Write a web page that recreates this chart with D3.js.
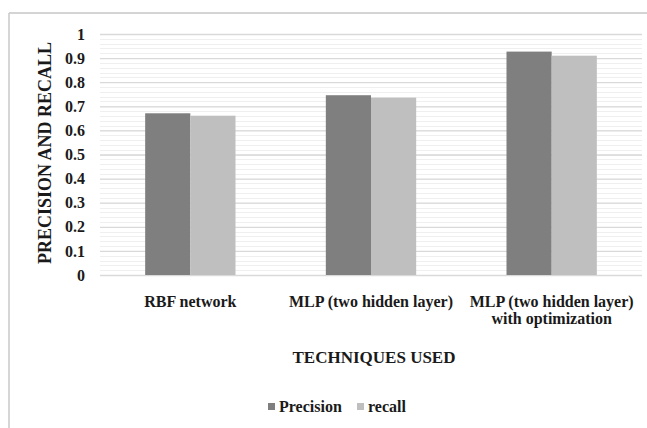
<!DOCTYPE html>
<html>
<head>
<meta charset="utf-8">
<script src="https://cdn.jsdelivr.net/npm/d3@7"></script>
<style>
body { margin: 0; background: #fff; }
</style>
</head>
<body>
<div class="container"></div>
<script>
// values
var techniques = ["RBF network", "MLP (two hidden layer)", "MLP (two hidden layer) with optimization"];
var precision = [0.671, 0.746, 0.927];
var recall = [0.661, 0.736, 0.910];
var seriesNames = ["Precision", "recall"];
var seriesColors = ["#7f7f7f", "#bfbfbf"];
var yTicks = [0, 0.1, 0.2, 0.3, 0.4, 0.5, 0.6, 0.7, 0.8, 0.9, 1];

var FONT = "'Liberation Serif'";
var W = 647, H = 428;
var plotL = 100, plotR = 642, plotT = 34, plotB = 275;

var svg = d3.select(".container")
	.append("svg")
	.attr("width", W)
	.attr("height", H);

function label(sel, size) {
	return sel.style("font-family", FONT).style("font-weight", "bold")
		.style("font-size", size + "px").attr("fill", "#1a1a1a");
}

// outer frame (only top + left edges show)
svg.append("line").attr("x1", 9).attr("x2", W).attr("y1", 13).attr("y2", 13)
	.style("stroke", "#d4d4d4").style("stroke-width", 2);
svg.append("line").attr("x1", 9).attr("x2", 9).attr("y1", 13).attr("y2", H)
	.style("stroke", "#c8c8c8").style("stroke-width", 1.5);

var x = d3.scaleBand().domain(techniques).range([plotL, plotR]).paddingInner(0.5).paddingOuter(0.25);
var xs = d3.scaleBand().domain(seriesNames).range([0, x.bandwidth()]);
var y = d3.scaleLinear().domain([0, 1]).range([plotB, plotT]);

// minor gridlines
var minor = d3.range(0, 1.0001, 0.02);
svg.append("g").selectAll("line").data(minor).enter().append("line")
	.attr("x1", plotL).attr("x2", plotR)
	.attr("y1", function(d) { return Math.round(y(d)) + 0.5; })
	.attr("y2", function(d) { return Math.round(y(d)) + 0.5; })
	.style("stroke", "#efefef");

// major gridlines + tick labels
var yAxis = svg.append("g")
	.attr("transform", "translate(" + plotL + ",0)")
	.call(d3.axisLeft(y).tickValues(yTicks).tickSize(-(plotR - plotL)).tickPadding(15)
		.tickFormat(function(d) { return d === 0 || d === 1 ? d3.format("d")(d) : d3.format(".1f")(d); }));
yAxis.select(".domain").remove();
yAxis.selectAll(".tick line").style("stroke", "#d9d9d9").style("stroke-width", 1.3);
label(yAxis.selectAll(".tick text"), 16);

// bars
var rows = techniques.map(function(t, i) { return { cat: t, vals: [precision[i], recall[i]] }; });
var groups = svg.append("g").selectAll("g").data(rows).enter().append("g")
	.attr("transform", function(d) { return "translate(" + x(d.cat) + ",0)"; });
groups.selectAll("rect").data(function(d) {
		return d.vals.map(function(v, j) { return { name: seriesNames[j], v: v, c: seriesColors[j] }; });
	}).enter().append("rect")
	.attr("x", function(d) { return xs(d.name); })
	.attr("width", xs.bandwidth())
	.attr("y", function(d) { return y(d.v); })
	.attr("height", function(d) { return y(0) - y(d.v); })
	.style("fill", function(d) { return d.c; });

// category labels
var catLines = [["RBF network"], ["MLP (two hidden layer)"], ["MLP (two hidden layer)", "with optimization"]];
techniques.forEach(function(t, i) {
	var cx = x(t) + x.bandwidth() / 2;
	var tx = label(svg.append("text"), 16)
		.attr("x", cx)
		.attr("y", 307)
		.attr("text-anchor", "middle");
	catLines[i].forEach(function(s, k) {
		tx.append("tspan").attr("x", cx).attr("dy", k === 0 ? 0 : 17).text(s);
	});
});

// axis titles
label(svg.append("text"), 17)
	.attr("x", 374)
	.attr("y", 363)
	.attr("text-anchor", "middle")
	.text("TECHNIQUES USED");

label(svg.append("text"), 18)
	.attr("transform", "translate(51,153) rotate(-90)")
	.attr("text-anchor", "middle")
	.text("PRECISION AND RECALL");

// legend
var legX = [268, 357];
seriesNames.forEach(function(n, i) {
	svg.append("rect").attr("x", legX[i]).attr("y", 403).attr("width", 7).attr("height", 7)
		.style("fill", seriesColors[i]);
	label(svg.append("text"), 16).attr("x", legX[i] + 11).attr("y", 412).text(n);
});
</script>
</body>
</html>
